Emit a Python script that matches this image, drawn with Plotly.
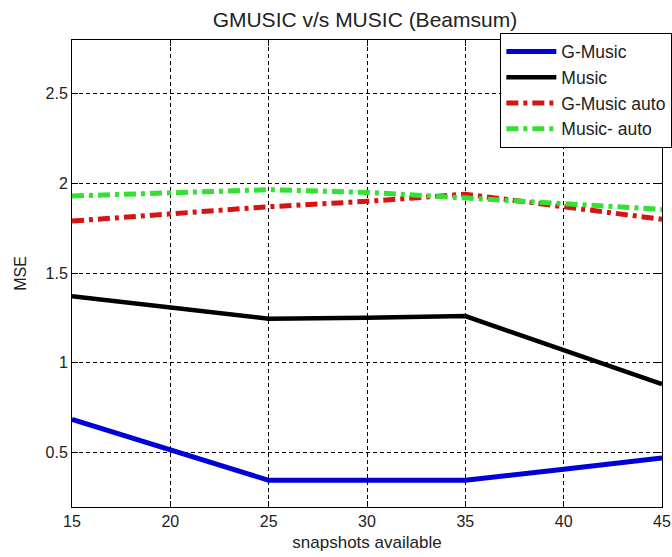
import plotly.graph_objects as go

snapshots = [15, 20, 25, 30, 35, 40, 45]
g_music = [0.684, 0.514, 0.344, 0.344, 0.344, 0.405, 0.468]
music = [1.37, 1.305, 1.245, 1.25, 1.26, 1.07, 0.88]
g_music_auto = [1.79, 1.83, 1.87, 1.90, 1.94, 1.87, 1.80]
music_auto = [1.93, 1.95, 1.965, 1.95, 1.92, 1.89, 1.855]

x_ticks = [15, 20, 25, 30, 35, 40, 45]
y_ticks = [0.5, 1, 1.5, 2, 2.5]
y_tick_labels = ["0.5", "1", "1.5", "2", "2.5"]

FONT = "Liberation Sans, Arial, sans-serif"
dashdot = "12px,5px,4px,5px"

fig = go.Figure()
fig.add_trace(go.Scatter(x=snapshots, y=g_music, mode="lines", name="G-Music",
                         line=dict(color="rgb(0,0,215)", width=5)))
fig.add_trace(go.Scatter(x=snapshots, y=music, mode="lines", name="Music",
                         line=dict(color="black", width=4.5)))
fig.add_trace(go.Scatter(x=snapshots, y=g_music_auto, mode="lines", name="G-Music auto",
                         line=dict(color="rgb(215,20,20)", width=5, dash=dashdot)))
fig.add_trace(go.Scatter(x=snapshots, y=music_auto, mode="lines", name="Music- auto",
                         line=dict(color="rgb(50,225,50)", width=5, dash=dashdot)))

axis_common = dict(
    showline=True, linecolor="black", linewidth=1, mirror="ticks",
    ticks="inside", ticklen=6, tickcolor="black",
    showgrid=True, gridcolor="black", gridwidth=1, griddash="4px,3px",
    zeroline=False,
    tickfont=dict(family=FONT, size=16, color="#222"),
)

fig.update_xaxes(range=[15, 45], tickvals=x_ticks,
                 title=dict(text="snapshots available", font=dict(family=FONT, size=17, color="#222"), standoff=6),
                 **axis_common)
fig.update_yaxes(range=[0.195, 2.8], tickvals=y_ticks, ticktext=y_tick_labels,
                 title=dict(text="MSE", font=dict(family=FONT, size=16, color="#222"), standoff=14),
                 **axis_common)

fig.update_layout(
    width=672, height=557,
    margin=dict(l=72, r=10, t=40, b=50, autoexpand=False),
    paper_bgcolor="white", plot_bgcolor="white",
    title=dict(text="GMUSIC v/s MUSIC (Beamsum)", x=0.543, xanchor="center",
               y=0.965, yanchor="middle",
               font=dict(family=FONT, size=21, color="#222")),
    legend=dict(x=0.726, xanchor="left", y=1.016, yanchor="top",
                bgcolor="white", bordercolor="black", borderwidth=1,
                font=dict(family=FONT, size=17.5, color="#222"),
                itemwidth=50, tracegroupgap=0),
    showlegend=True,
)

fig.write_html("out.html")
